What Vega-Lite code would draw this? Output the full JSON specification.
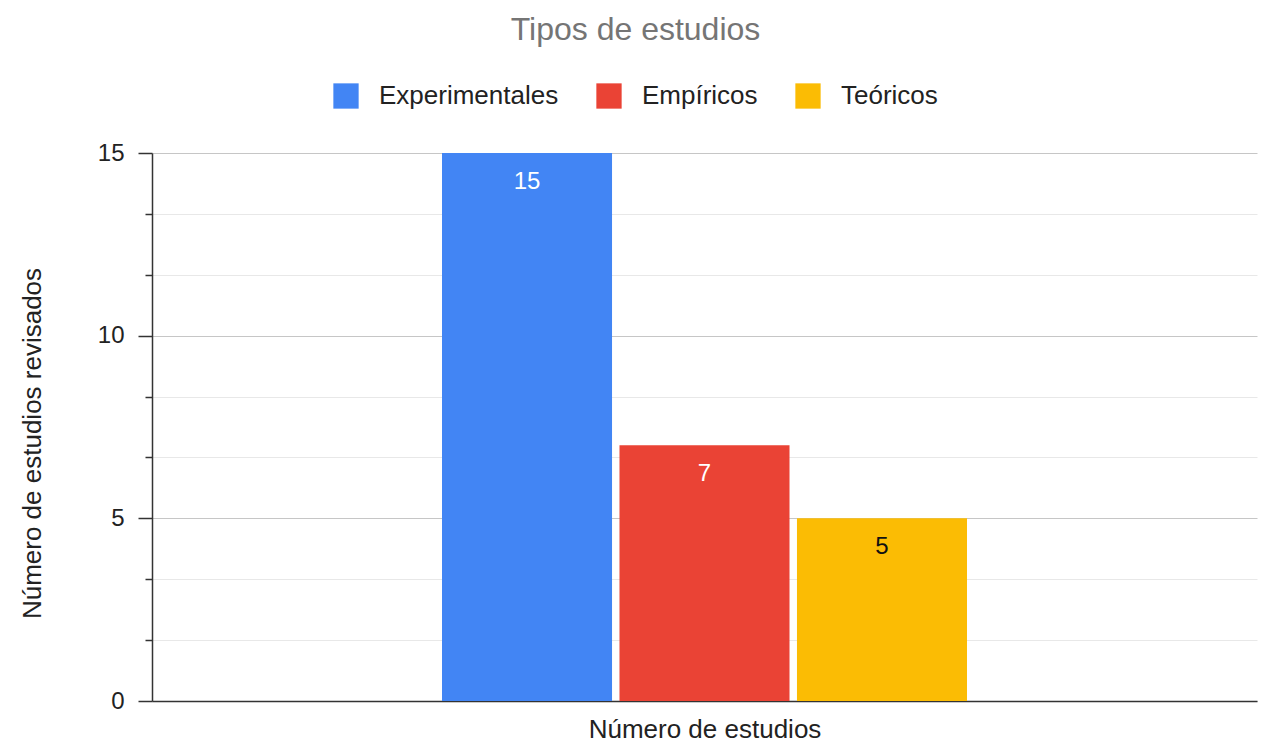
{
  "$schema": "https://vega.github.io/schema/vega-lite/v6.json",
  "width": 1105,
  "height": 548,
  "autosize": {"type": "none"},
  "padding": {"left": 152, "top": 153, "right": 7, "bottom": 48},
  "background": "white",
  "title": {
    "text": "Tipos de estudios",
    "font": "Liberation Sans",
    "fontSize": 32,
    "fontWeight": "normal",
    "color": "#757575",
    "anchor": "middle",
    "frame": "group",
    "dx": -69,
    "offset": 36
  },
  "config": {"view": {"stroke": null}},
  "data": {
    "values": [
      {"grupo": "Número de estudios", "tipo": "Experimentales", "n": 15},
      {"grupo": "Número de estudios", "tipo": "Empíricos", "n": 7},
      {"grupo": "Número de estudios", "tipo": "Teóricos", "n": 5}
    ]
  },
  "encoding": {
    "x": {
      "field": "grupo",
      "type": "nominal",
      "scale": {"paddingInner": 0, "paddingOuter": 0.5524},
      "axis": {
        "title": "Número de estudios",
        "labels": false,
        "ticks": false,
        "domainColor": "#333333",
        "domainWidth": 1.5,
        "titleFont": "Liberation Sans",
        "titleFontSize": 26,
        "titleFontWeight": "normal",
        "titleColor": "#222222",
        "titlePadding": 15
      }
    },
    "xOffset": {
      "field": "tipo",
      "type": "nominal",
      "sort": ["Experimentales", "Empíricos", "Teóricos"],
      "scale": {"paddingInner": 0.042, "paddingOuter": 0}
    },
    "y": {
      "field": "n",
      "type": "quantitative",
      "scale": {"domain": [0, 15], "nice": false},
      "axis": {
        "title": "Número de estudios revisados",
        "titleFont": "Liberation Sans",
        "titleFontSize": 26,
        "titleFontWeight": "normal",
        "titleColor": "#222222",
        "titlePadding": 52,
        "titleY": 290,
        "values": [0, 1.6667, 3.3333, 5, 6.6667, 8.3333, 10, 11.6667, 13.3333, 15],
        "labelExpr": "datum.value % 5 === 0 ? datum.label : ''",
        "labelFont": "Liberation Sans",
        "labelFontSize": 24,
        "labelColor": "#222222",
        "labelPadding": 14,
        "tickSize": {"condition": {"test": "datum.value % 5 === 0", "value": 14}, "value": 7},
        "tickColor": "#333333",
        "tickWidth": 1.5,
        "domainColor": "#333333",
        "domainWidth": 1.5,
        "grid": true,
        "gridColor": {"condition": {"test": "datum.value % 5 === 0", "value": "#c6c6c6"}, "value": "#e8e8e8"},
        "gridWidth": 1
      }
    }
  },
  "layer": [
    {
      "mark": {"type": "bar"},
      "encoding": {
        "color": {
          "field": "tipo",
          "type": "nominal",
          "scale": {
            "domain": ["Experimentales", "Empíricos", "Teóricos"],
            "range": ["#4285F4", "#EA4335", "#FBBC04"]
          },
          "legend": {
            "title": null,
            "orient": "none",
            "direction": "horizontal",
            "legendX": 181,
            "legendY": -70,
            "symbolType": "square",
            "symbolSize": 640,
            "symbolStrokeWidth": 0,
            "labelFont": "Liberation Sans",
            "labelFontSize": 26,
            "labelColor": "#222222",
            "labelLimit": 400,
            "labelOffset": 20,
            "columnPadding": 37
          }
        }
      }
    },
    {
      "mark": {"type": "text", "baseline": "middle", "dy": 29, "font": "Liberation Sans", "fontSize": 24},
      "encoding": {
        "text": {"field": "n", "type": "quantitative"},
        "color": {
          "condition": {"test": "datum.tipo === 'Teóricos'", "value": "#111111"},
          "value": "#ffffff"
        }
      }
    }
  ]
}
